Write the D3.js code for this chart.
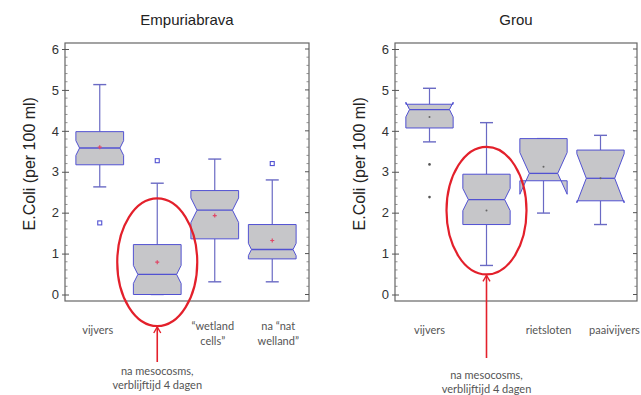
<!DOCTYPE html>
<html>
<head>
<meta charset="utf-8">
<script src="https://cdn.jsdelivr.net/npm/d3@7"></script>
<style>
  body { margin: 0; background: #fff; }
  svg { display: block; }
</style>
</head>
<body>
<svg id="chart" width="641" height="395"></svg>
<script>
// ---- Empuriabrava ----
const empCategories = ["vijvers", "mesocosms", "wetland cells", "nat welland"];
const empLabels = [["vijvers"], [], ["\u201cwetland", "cells\u201d"], ["na \u201cnat", "welland\u201d"]];
const empWhiskerHigh = [5.13, 2.72, 3.31, 2.80];
const empQ3 = [3.98, 1.22, 2.54, 1.71];
const empMedian = [3.58, 0.49, 2.06, 1.10];
const empQ1 = [3.17, 0.00, 1.36, 0.87];
const empWhiskerLow = [2.63, 0.00, 0.31, 0.31];
const empMean = [3.60, 0.79, 1.93, 1.32];
const empNotch = [0.18, 0.22, 0.30, 0.15];
const empOutliers = [[1.75], [3.27], [], [3.20]];

// ---- Grou ----
const grouCategories = ["vijvers", "mesocosms", "rietsloten", "paaivijvers"];
const grouLabels = [["vijvers"], [], ["rietsloten"], ["paaivijvers"]];
const grouWhiskerHigh = [5.04, 4.20, 3.81, 3.89];
const grouQ3 = [4.65, 2.94, 3.81, 3.53];
const grouMedian = [4.52, 2.32, 2.96, 2.84];
const grouQ1 = [4.07, 1.71, 2.78, 2.29];
const grouWhiskerLow = [3.73, 0.71, 1.99, 1.71];
const grouMean = [4.34, 2.05, 3.12, 2.84];
const grouNotch = [0.18, 0.27, 0.51, 0.60];
const grouOutliers = [[3.18, 2.38], [], [], []];

const yTickValues = [0, 1, 2, 3, 4, 5, 6];
const yLabel = "E.Coli (per 100 ml)";
const annotationLines = ["na mesocosms,", "verblijftijd 4 dagen"];
const highlighted = "mesocosms";

const svg = d3.select("#chart");
const BOX = "#5252d2";
const WHISK = "#6a6ac4";
const RED = "#e3202b";

function drawPanel(opt) {
  const { left, right, title, cats, labels, hi, q3, med, q1, lo, mean, notch, outliers, labelShift, meanStyle, outlierStyle, annoBottom, annoText } = opt;
  const top = 43, bottom = 301;
  const g = svg.append("g");

  const y = d3.scaleLinear().domain([0, 6]).range([294.5, 49]);
  const x = d3.scaleBand().domain(cats).range([left + 6, right - 8]).padding(0);
  const bw = x.bandwidth() * 0.83;

  // title
  g.append("text").attr("x", (left + right) / 2).attr("y", 25)
    .attr("text-anchor", "middle").attr("font-family", "Liberation Sans, Arial, sans-serif")
    .attr("font-size", 15).attr("fill", "#222").text(title);

  // frame
  g.append("rect").attr("x", left).attr("y", top).attr("width", right - left).attr("height", bottom - top)
    .attr("fill", "none").attr("stroke", "#666").attr("stroke-width", 1.2);

  // left axis ticks and labels
  const ax = d3.axisLeft(y).tickValues(yTickValues).tickSize(4).tickPadding(3).tickFormat(d3.format("d"));
  const axG = g.append("g").attr("transform", `translate(${left},0)`).call(ax);
  axG.select(".domain").remove();
  axG.selectAll(".tick line").attr("stroke", "#555").attr("x2", -3).attr("x1", 4);
  axG.selectAll(".tick text").attr("font-family", "Liberation Sans, Arial, sans-serif")
    .attr("font-size", 13).attr("fill", "#333").attr("x", -6);

  // minor ticks on both vertical edges
  const minor = d3.range(0, 6.001, 0.2).filter(v => Math.abs(v - Math.round(v)) > 1e-6);
  g.append("g").selectAll("line.mL").data(minor).join("line")
    .attr("x1", left).attr("x2", left + 2.5).attr("y1", d => y(d)).attr("y2", d => y(d))
    .attr("stroke", "#777").attr("stroke-width", 0.8);
  g.append("g").selectAll("line.mR").data(minor).join("line")
    .attr("x1", right).attr("x2", right - 2.5).attr("y1", d => y(d)).attr("y2", d => y(d))
    .attr("stroke", "#777").attr("stroke-width", 0.8);
  g.append("g").selectAll("line.MR").data(yTickValues).join("line")
    .attr("x1", right).attr("x2", right - 4).attr("y1", d => y(d)).attr("y2", d => y(d))
    .attr("stroke", "#555").attr("stroke-width", 1);

  // y axis title
  g.append("text")
    .attr("transform", `translate(${left - 30},${(y(0) + y(6)) / 2 - 8}) rotate(-90)`)
    .attr("text-anchor", "middle").attr("font-family", "Liberation Sans, Arial, sans-serif")
    .attr("font-size", 16).attr("fill", "#222").text(yLabel);

  // boxes
  cats.forEach((c, i) => {
    const cx = x(c) + x.bandwidth() / 2;
    const L = cx - bw / 2, R = cx + bw / 2;
    const nPx = y(med[i] - notch[i]) - y(med[i]);
    const inset = Math.min(0.5 * nPx, 0.2 * bw);
    const cap = 6.5;

    // whiskers
    g.append("line").attr("x1", cx).attr("x2", cx).attr("y1", y(q3[i])).attr("y2", y(hi[i]))
      .attr("stroke", WHISK).attr("stroke-width", 1.2);
    g.append("line").attr("x1", cx).attr("x2", cx).attr("y1", y(q1[i])).attr("y2", y(lo[i]))
      .attr("stroke", WHISK).attr("stroke-width", 1.2);
    [hi[i], lo[i]].forEach(v => {
      g.append("line").attr("x1", cx - cap).attr("x2", cx + cap).attr("y1", y(v)).attr("y2", y(v))
        .attr("stroke", WHISK).attr("stroke-width", 1.4);
    });

    // notched box
    const pts = [
      [L, y(q1[i])], [L, y(med[i] - notch[i])], [L + inset, y(med[i])], [L, y(med[i] + notch[i])],
      [L, y(q3[i])], [R, y(q3[i])], [R, y(med[i] + notch[i])], [R - inset, y(med[i])],
      [R, y(med[i] - notch[i])], [R, y(q1[i])]
    ];
    g.append("path").attr("d", d3.line()(pts) + "Z")
      .attr("fill", "#c6c6c9").attr("stroke", BOX).attr("stroke-width", 1).attr("stroke-linejoin", "miter");
    g.append("line").attr("x1", L + inset).attr("x2", R - inset).attr("y1", y(med[i])).attr("y2", y(med[i]))
      .attr("stroke", BOX).attr("stroke-width", 1.3);

    // mean marker
    const my = y(mean[i]);
    if (meanStyle === "plus") {
      g.append("path").attr("d", `M${cx - 2},${my}H${cx + 2}M${cx},${my - 2}V${my + 2}`)
        .attr("stroke", "#e04868").attr("stroke-width", 1.2);
    } else {
      g.append("circle").attr("cx", cx).attr("cy", my).attr("r", 1).attr("fill", "#666");
    }

    // outliers
    outliers[i].forEach(v => {
      if (outlierStyle === "square") {
        g.append("rect").attr("x", cx - 2).attr("y", y(v) - 2).attr("width", 4).attr("height", 4)
          .attr("fill", "none").attr("stroke", BOX).attr("stroke-width", 1.1);
      } else {
        g.append("circle").attr("cx", cx).attr("cy", y(v)).attr("r", 1.3).attr("fill", "#555");
      }
    });

    // category label
    const lines = labels[i];
    const y0 = lines.length > 1 ? 326 : 330;
    lines.forEach((t, k) => {
      g.append("text").attr("x", cx + labelShift[i]).attr("y", y0 + k * 15).attr("dy", "0.35em")
        .attr("text-anchor", "middle").attr("font-family", "Lato, 'Open Sans', sans-serif")
        .attr("font-size", 11).attr("fill", "#555").text(t);
    });
  });

  // highlight ellipse around the mesocosm box, centred on its mean
  const hiIdx = cats.indexOf(highlighted);
  const ecx = x(highlighted) + x.bandwidth() / 2;
  const ecy = y(mean[hiIdx]);
  const ery = y(0) - y(1.56);
  g.append("ellipse").attr("cx", ecx).attr("cy", ecy).attr("rx", 40).attr("ry", ery)
    .attr("fill", "none").attr("stroke", RED).attr("stroke-width", 2.2);

  // arrow pointing up at the ellipse
  const tipY = ecy + ery + 1;
  g.append("line").attr("x1", ecx).attr("x2", ecx).attr("y1", tipY).attr("y2", annoBottom)
    .attr("stroke", RED).attr("stroke-width", 1.6);
  g.append("path").attr("d", `M${ecx - 3.5},${tipY + 6}L${ecx},${tipY}L${ecx + 3.5},${tipY + 6}`)
    .attr("fill", "none").attr("stroke", RED).attr("stroke-width", 1.4);

  annotationLines.forEach((t, k) => {
    g.append("text").attr("x", ecx).attr("y", annoText + k * 14).attr("dy", "0.35em")
      .attr("text-anchor", "middle").attr("font-family", "Lato, 'Open Sans', sans-serif")
      .attr("font-size", 11).attr("fill", "#555").text(t);
  });
}

drawPanel({
  left: 65, right: 309, title: "Empuriabrava", cats: empCategories, labels: empLabels,
  hi: empWhiskerHigh, q3: empQ3, med: empMedian, q1: empQ1, lo: empWhiskerLow,
  mean: empMean, notch: empNotch, outliers: empOutliers,
  labelShift: [-2, 0, -2, 6], meanStyle: "plus", outlierStyle: "square",
  annoBottom: 362, annoText: 371
});

drawPanel({
  left: 395, right: 637, title: "Grou", cats: grouCategories, labels: grouLabels,
  hi: grouWhiskerHigh, q3: grouQ3, med: grouMedian, q1: grouQ1, lo: grouWhiskerLow,
  mean: grouMean, notch: grouNotch, outliers: grouOutliers,
  labelShift: [0, 0, 5, 14], meanStyle: "dot", outlierStyle: "dot",
  annoBottom: 358, annoText: 375
});
</script>
</body>
</html>
